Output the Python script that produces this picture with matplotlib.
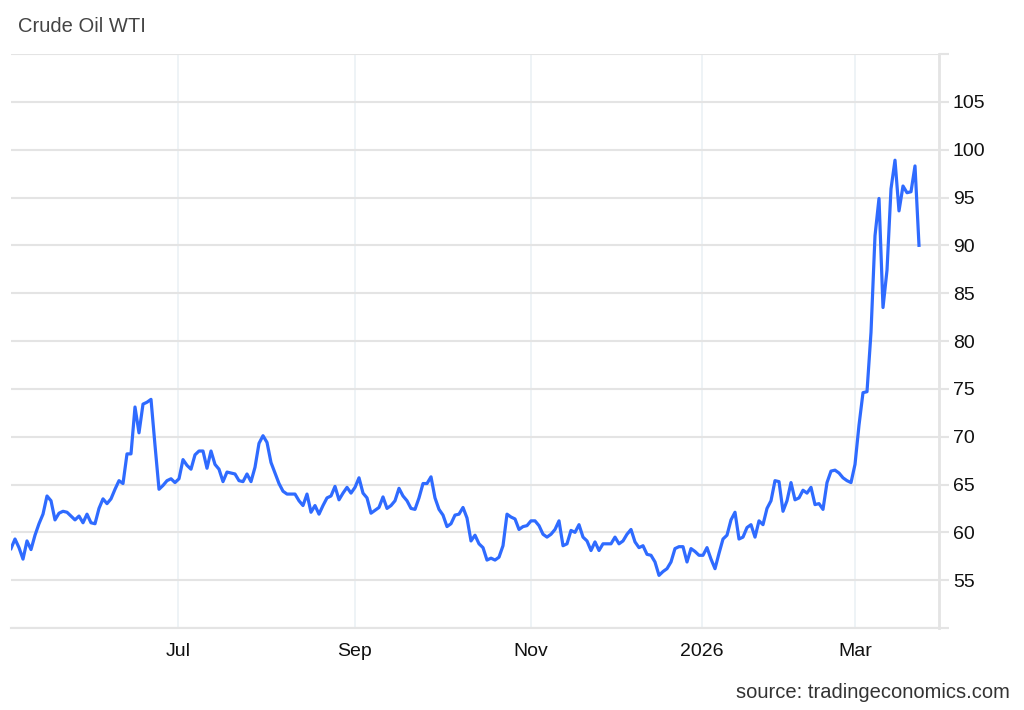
import matplotlib

matplotlib.use("Agg")
import matplotlib.pyplot as plt
import numpy as np

# daily WTI closes (trading days, left to right)
prices = [
    58.3, 59.3, 58.4, 57.2, 59.1, 58.2, 59.7, 60.9, 61.9, 63.8,
    63.3, 61.3, 62.0, 62.2, 62.1, 61.7, 61.3, 61.7, 61.0, 61.9,
    61.0, 60.9, 62.5, 63.5, 63.0, 63.5, 64.5, 65.4, 65.1, 68.2,
    68.2, 73.1, 70.4, 73.4, 73.6, 73.9, 69.1, 64.5, 64.9, 65.4,
    65.6, 65.2, 65.6, 67.6, 67.0, 66.6, 68.1, 68.5, 68.5, 66.7,
    68.5, 67.1, 66.6, 65.3, 66.3, 66.2, 66.1, 65.4,
    65.3, 66.1, 65.3, 66.8, 69.3, 70.1, 69.4, 67.3, 66.2, 65.1,
    64.3, 64.0, 64.0, 64.0, 63.3, 62.8, 64.0, 62.1, 62.8, 61.9,
    62.8, 63.6, 63.8, 64.8, 63.4, 64.1, 64.7, 64.1, 64.7, 65.7,
    64.1, 63.6, 62.0, 62.3, 62.6, 63.7, 62.5, 62.8, 63.3, 64.6,
    63.8, 63.3, 62.5, 62.4, 63.6, 65.1, 65.1, 65.8, 63.6, 62.4,
    61.8, 60.6, 60.9, 61.8, 61.9, 62.6, 61.5, 59.1,
    59.7, 58.8, 58.4, 57.1, 57.3, 57.1, 57.4, 58.6, 61.9, 61.6,
    61.4, 60.3, 60.6, 60.7, 61.2, 61.2, 60.7, 59.8, 59.5, 59.8,
    60.3, 61.2, 58.6, 58.8, 60.2, 60.0, 60.8, 59.5, 59.1, 58.1,
    59.0, 58.1, 58.8, 58.8, 58.8, 59.5, 58.8, 59.1, 59.8, 60.3,
    59.0, 58.4, 58.6, 57.7, 57.6, 56.9, 55.5, 55.9, 56.2, 56.9,
    58.3, 58.5, 58.5, 56.9, 58.3, 58.0, 57.6,
    57.6, 58.4, 57.2, 56.2, 57.8, 59.3, 59.7, 61.3, 62.1, 59.3,
    59.5, 60.5, 60.8, 59.5, 61.2, 60.8, 62.5, 63.3, 65.4, 65.3,
    62.2, 63.3, 65.2, 63.4, 63.6, 64.4, 64.1, 64.7, 62.9, 63.0,
    62.4, 65.2, 66.4, 66.5, 66.2, 65.7, 65.4, 65.2, 67.1,
    71.2, 74.6, 74.7, 80.9, 91.0, 94.9, 83.5, 87.4, 95.9, 98.9,
    93.6, 96.2, 95.5, 95.6, 98.3, 90.0,
]

month_labels = ["Jul", "Sep", "Nov", "2026", "Mar"]
month_starts = [41.75, 86, 130, 172.75, 211]  # trading-day index of each month start
y_ticks = [50, 55, 60, 65, 70, 75, 80, 85, 90, 95, 100, 105, 110]


def main() -> None:
    plt.rcParams["font.family"] = ["Liberation Sans", "DejaVu Sans"]

    fig = plt.figure(figsize=(10.24, 7.10), dpi=100)
    ax = fig.add_axes([11 / 1024, 1 - 628 / 710, (939 - 11) / 1024, (628 - 54) / 710])

    grid_c = "#e4e4e4"
    ax.plot(np.arange(len(prices)), prices, color="#2f6bff", lw=2.3,
            solid_joinstyle="round", zorder=3)

    ax.set_xlim(0, 232)
    ax.set_ylim(50, 110)

    ax.set_yticks(y_ticks, [str(v) if 50 < v < 110 else "" for v in y_ticks])
    ax.set_xticks(month_starts, month_labels)
    ax.yaxis.tick_right()
    ax.tick_params(axis="y", length=7, width=1.5, color=grid_c, labelsize=14,
                   pad=3, labelcolor="#111111")
    ax.tick_params(axis="x", length=0, labelsize=14, pad=11, labelcolor="#111111")

    ax.grid(axis="y", color=grid_c, lw=1.5)
    ax.grid(axis="x", color="#edf2f6", lw=1.3)
    ax.set_axisbelow(True)

    for side in ("left", "top"):
        ax.spines[side].set_visible(False)
    ax.spines["right"].set_color(grid_c)
    ax.spines["right"].set_linewidth(2)
    ax.spines["bottom"].set_color(grid_c)
    ax.spines["bottom"].set_linewidth(1.5)

    fig.text(18 / 1024, 1 - 27 / 710, "Crude Oil WTI", fontsize=14.5,
             color="#444444", va="center", ha="left")
    fig.text(1010 / 1024, 1 - 692 / 710, "source: tradingeconomics.com",
             fontsize=14.5, color="#333333", va="center", ha="right")

    fig.savefig("out.png", dpi=100)


if __name__ == "__main__":
    main()
